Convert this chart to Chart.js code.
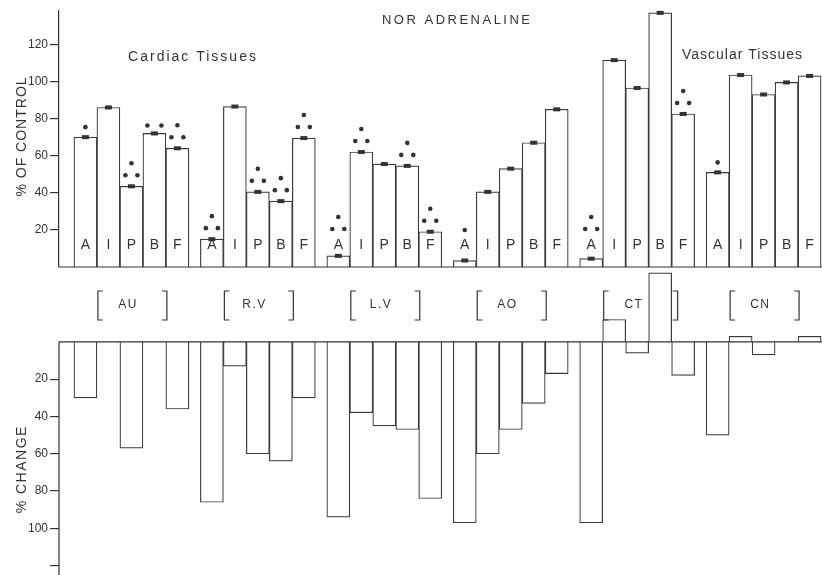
<!DOCTYPE html>
<html>
<head>
<meta charset="utf-8">
<script src="https://cdn.jsdelivr.net/npm/chart.js@4.4.1/dist/chart.umd.min.js"></script>
<style>
  body { margin: 0; background: #fff; }
  #wrap { position: relative; width: 822px; height: 575px; }
  .panel { position: absolute; left: 0; width: 822px; }
  #topBox { top: 0; height: 275px; }
  #bottomBox { top: 268px; height: 307px; }
</style>
</head>
<body>
<div id="wrap">
  <div class="panel" id="topBox"><canvas id="controlChart"></canvas></div>
  <div class="panel" id="bottomBox"><canvas id="changeChart"></canvas></div>
</div>
<script>
const tissues = ["AU", "R.V", "L.V", "AO", "CT", "CN"];
const treatments = ["A", "I", "P", "B", "F"];

// % of control, group by group (AU, RV, LV, AO, CT, CN), A I P B F in each
const pctControl = [
  70, 86, 43.5, 72, 64,
  15, 86.5, 40.5, 35.5, 69.5,
  6, 62, 55.5, 54.5, 19,
  3.5, 40.5, 53, 67, 85,
  4.5, 111.5, 96.5, 137, 82.5,
  51, 103.5, 93, 99.5, 103
];
// % change, positive = fall (drawn down), null = no bar
const pctChange = [
  30, null, 57, null, 36,
  86, 13, 60, 64, 30,
  94, 38, 45, 47, 84,
  97, 60, 47, 33, 17,
  97, -12, 6, -37, 18,
  50, -3, 7, null, -3
];
// asterisks over each bar
const stars = [
  1, 0, 3, 2, 3,
  3, 0, 3, 3, 3,
  3, 3, 0, 3, 3,
  1, 0, 0, 0, 0,
  3, 0, 0, 0, 3,
  1, 0, 0, 0, 0
];
const controlTicks = [20, 40, 60, 80, 100, 120];
const changeTicks = [20, 40, 60, 80, 100, 120];

const ink = "#333";
const family = '"Liberation Sans", Arial, sans-serif';

// bar slot on the x axis: 5 bars per tissue, half a bar between tissues
const slot = i => Math.floor(i / 5) * 5.5 + i % 5;

function spacedText(ctx, text, x, y, size, spacing) {
  ctx.font = size + "px " + family;
  ctx.letterSpacing = spacing + "px";
  ctx.textAlign = "center";
  ctx.textBaseline = "middle";
  ctx.fillText(text, x + spacing / 2, y);
  ctx.letterSpacing = "0px";
}

function xAxis() {
  return {
    type: "linear", display: false, offset: false, min: -1.15, max: 32.04,
    afterBuildTicks: s => { s.ticks = [{ value: 0 }]; }
  };
}

function yAxis(extra) {
  return Object.assign({
    grid: { display: true, drawOnChartArea: false, drawTicks: true, tickLength: 9, color: ink, lineWidth: 1.2 },
    border: { display: true, color: ink, width: 1.2 },
    ticks: { color: ink, font: { family: family, size: 12 }, padding: 2 },
    afterFit: s => { s.width = 59; s.paddingTop = 0; s.paddingBottom = 0; }
  }, extra);
}

const topDecor = {
  id: "topDecor",
  afterDatasetsDraw(chart) {
    const { ctx, chartArea, scales: { y } } = chart;
    const meta = chart.getDatasetMeta(0);
    ctx.save();
    ctx.strokeStyle = ink;
    ctx.lineWidth = 1.2;
    ctx.beginPath();
    ctx.moveTo(chartArea.left, y.getPixelForValue(0));
    ctx.lineTo(chartArea.right, y.getPixelForValue(0));
    ctx.stroke();

    ctx.fillStyle = ink;
    meta.data.forEach((bar, i) => {
      const cx = bar.x, top = bar.y;
      ctx.fillRect(cx - 3.5, top - 2, 7, 4); // s.e. mark
      spacedText(ctx, treatments[i % 5], cx, 245, 14, 0);
      const anchor = Math.min(top, 240);
      const n = stars[i];
      const dots = n === 1 ? [[0, -10]] : n === 2 ? [[-7, -8], [7, -8]] : n === 3 ? [[0, -23], [-6, -11], [6, -11]] : [];
      dots.forEach(([dx, dy]) => {
        ctx.beginPath();
        ctx.arc(cx + dx, anchor + dy, 2.3, 0, Math.PI * 2);
        ctx.fill();
      });
    });

    spacedText(ctx, "NOR ADRENALINE", 456, 20, 13, 2.5);
    spacedText(ctx, "Cardiac Tissues", 192, 57, 14, 2);
    spacedText(ctx, "Vascular Tissues", 742, 55, 14, 1);
    ctx.save();
    ctx.translate(22, 137);
    ctx.rotate(-Math.PI / 2);
    spacedText(ctx, "% OF CONTROL", 0, 0, 14, 1);
    ctx.restore();
    ctx.restore();
  }
};

const bottomDecor = {
  id: "bottomDecor",
  afterDatasetsDraw(chart) {
    const { ctx, chartArea, scales: { x, y } } = chart;
    const zero = y.getPixelForValue(0);
    ctx.save();
    ctx.strokeStyle = ink;
    ctx.fillStyle = ink;
    ctx.lineWidth = 1.2;
    ctx.beginPath();
    ctx.moveTo(chartArea.left, zero);
    ctx.lineTo(chartArea.right, zero);
    ctx.moveTo(chartArea.left, zero);
    ctx.lineTo(chartArea.left, chartArea.bottom);
    ctx.stroke();

    // tissue brackets between the panels
    tissues.forEach((name, g) => {
      const left = x.getPixelForValue(slot(g * 5 + 1) - 0.5) + 1;
      const clear = pctChange[g * 5 + 3] < 0 ? 6 : 1;
      const right = x.getPixelForValue(slot(g * 5 + 3) + 0.5) + clear;
      const t = 23, b = 52;
      ctx.beginPath();
      ctx.moveTo(left + 5, t); ctx.lineTo(left, t); ctx.lineTo(left, b); ctx.lineTo(left + 5, b);
      ctx.moveTo(right - 5, t); ctx.lineTo(right, t); ctx.lineTo(right, b); ctx.lineTo(right - 5, b);
      ctx.stroke();
      spacedText(ctx, name, x.getPixelForValue(slot(g * 5 + 2)) - 4, 37, 12, 1.5);
    });

    ctx.save();
    ctx.translate(22, 202);
    ctx.rotate(-Math.PI / 2);
    spacedText(ctx, "% CHANGE", 0, 0, 14, 1.5);
    ctx.restore();
    ctx.restore();
  }
};

const barStyle = {
  backgroundColor: "#fff",
  borderColor: "#3a3a3a",
  borderWidth: 1.2,
  barPercentage: 1,
  categoryPercentage: 1
};

new Chart(document.getElementById("controlChart"), {
  type: "bar",
  data: {
    datasets: [Object.assign({
      label: "% of control",
      data: pctControl.map((v, i) => ({ x: slot(i), y: v }))
    }, barStyle)]
  },
  options: {
    responsive: true,
    maintainAspectRatio: false,
    animation: false,
    layout: { padding: { top: 11, bottom: 8, left: 0, right: 0 } },
    plugins: { legend: { display: false }, tooltip: { enabled: false } },
    scales: {
      x: xAxis(),
      y: yAxis({
        min: 0, max: 138,
        afterBuildTicks: s => { s.ticks = controlTicks.map(v => ({ value: v })); }
      })
    }
  },
  plugins: [topDecor]
});

new Chart(document.getElementById("changeChart"), {
  type: "bar",
  data: {
    datasets: [Object.assign({
      label: "% change",
      data: pctChange.map((v, i) => ({ x: slot(i), y: v }))
    }, barStyle)]
  },
  options: {
    responsive: true,
    maintainAspectRatio: false,
    animation: false,
    layout: { padding: { top: 3, bottom: 0, left: 0, right: 0 } },
    plugins: { legend: { display: false }, tooltip: { enabled: false } },
    scales: {
      x: xAxis(),
      y: yAxis({
        reverse: true, min: -38, max: 125,
        border: { display: false },
        ticks: {
          color: ink, font: { family: family, size: 12 }, padding: 2,
          callback: v => (v === 120 ? "" : v)
        },
        afterBuildTicks: s => { s.ticks = changeTicks.map(v => ({ value: v })); }
      })
    }
  },
  plugins: [bottomDecor]
});
</script>
</body>
</html>
